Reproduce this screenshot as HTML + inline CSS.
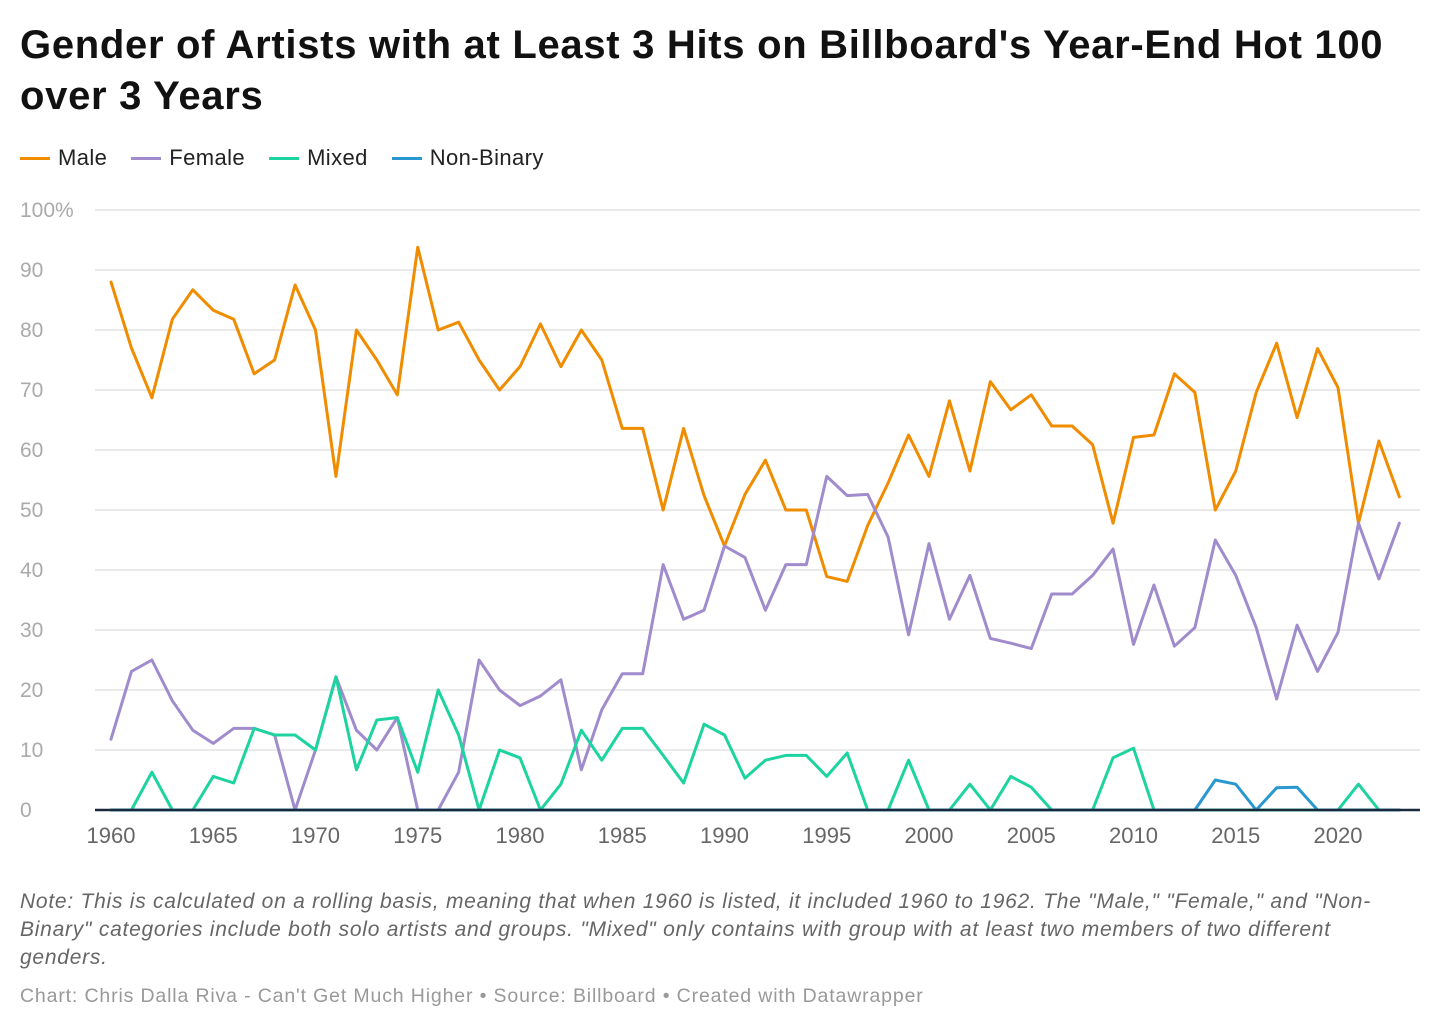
<!DOCTYPE html>
<html><head><meta charset="utf-8"><style>
body{margin:0;background:#fff;font-family:"Liberation Sans",sans-serif;}
#wrap{position:relative;width:1440px;height:1030px;overflow:hidden}
h1{position:absolute;left:20px;top:20px;margin:0;font-size:40px;line-height:51px;font-weight:bold;color:#111;letter-spacing:0.7px}
.leg{position:absolute;top:145px;left:20px;font-size:22px;color:#222;display:flex;gap:24px;letter-spacing:0.4px}
.leg span{display:flex;align-items:center}
.leg i{display:inline-block;width:30px;height:3px;margin-right:8px}
.note{position:absolute;left:20px;top:888px;width:1395px;font-size:21px;line-height:28px;font-style:italic;color:#666;letter-spacing:0.75px}
.foot{position:absolute;left:20px;top:985px;font-size:19.5px;color:#999;letter-spacing:0.85px}
</style></head><body><div id="wrap">
<h1>Gender of Artists with at Least 3 Hits on Billboard's Year-End Hot 100<br>over 3 Years</h1>
<div class="leg">
<span><i style="background:#f08c00"></i>Male</span>
<span><i style="background:#a08ccc"></i>Female</span>
<span><i style="background:#1dd3a0"></i>Mixed</span>
<span><i style="background:#2a98d0"></i>Non-Binary</span>
</div>
<svg id="svg" width="1440" height="1030" style="position:absolute;left:0;top:0"></svg>
<div class="note">Note: This is calculated on a rolling basis, meaning that when 1960 is listed, it included 1960 to 1962. The "Male," "Female," and "Non-Binary" categories include both solo artists and groups. "Mixed" only contains with group with at least two members of two different genders.</div>
<div class="foot">Chart: Chris Dalla Riva - Can't Get Much Higher • Source: Billboard • Created with Datawrapper</div>
</div>
<script>
const years=[];for(let y=1960;y<=2023;y++)years.push(y);
const male=[88,77,68.7,81.8,86.7,83.3,81.8,72.7,75,87.5,80,55.6,80,75,69.2,93.8,80,81.3,75,70,73.9,81,73.9,80,75,63.6,63.6,50,63.6,52.4,44,52.6,58.3,50,50,38.9,38.1,47.4,54.5,62.5,55.6,68.2,56.5,71.4,66.7,69.2,64,64,60.9,47.8,62.1,62.5,72.7,69.6,50,56.5,69.6,77.8,65.4,76.9,70.4,47.8,61.5,52.2];
const female=[11.8,23.1,25,18.2,13.3,11.1,13.6,13.6,12.5,0,10,22.2,13.3,10,15.4,0,0,6.3,25,20,17.4,19,21.7,6.7,16.7,22.7,22.7,40.9,31.8,33.3,44,42.1,33.3,40.9,40.9,55.6,52.4,52.6,45.5,29.2,44.4,31.8,39.1,28.6,27.8,26.9,36,36,39.1,43.5,27.6,37.5,27.3,30.4,45,39.1,30.4,18.5,30.8,23.1,29.6,47.8,38.5,47.8];
const mixed=[0,0,6.3,0,0,5.6,4.5,13.6,12.5,12.5,10,22.2,6.7,15,15.4,6.3,20,12.5,0,10,8.7,0,4.3,13.3,8.3,13.6,13.6,9.1,4.5,14.3,12.5,5.3,8.3,9.1,9.1,5.6,9.5,0,0,8.3,0,0,4.3,0,5.6,3.8,0,0,0,8.7,10.3,0,0,0,0,0,0,0,0,0,0,4.3,0,0];
const nonbinary=[0,0,0,0,0,0,0,0,0,0,0,0,0,0,0,0,0,0,0,0,0,0,0,0,0,0,0,0,0,0,0,0,0,0,0,0,0,0,0,0,0,0,0,0,0,0,0,0,0,0,0,0,0,0,5,4.3,0,3.7,3.8,0,0,0,0,0];
const yTicks=[0,10,20,30,40,50,60,70,80,90,100];
const xTicks=[1960,1965,1970,1975,1980,1985,1990,1995,2000,2005,2010,2015,2020];
const NS='http://www.w3.org/2000/svg',svg=document.getElementById('svg');
const X=y=>111+(y-1960)*(1338-111)/60, Y=v=>810-v*6;
function mk(t,a){const e=document.createElementNS(NS,t);for(const k in a)e.setAttribute(k,a[k]);svg.appendChild(e);return e;}
yTicks.forEach(v=>{
 const l=mk('line',{x1:95,x2:1420,y1:Y(v),y2:Y(v),stroke:'#e3e3e3','stroke-width':1.5});
 
 
 const t=mk('text',{x:20,y:Y(v)+7,'font-size':21,fill:'#aaa','font-family':'Liberation Sans'});
 t.textContent=v===100?'100%':v;
 
 
});
xTicks.forEach(v=>{
 const t=mk('text',{x:X(v),y:843,'font-size':22,fill:'#666','text-anchor':'middle','font-family':'Liberation Sans'});
 t.textContent=v;
 
 
});
function line(d,c,n){const p=mk('polyline',{points:d.map((v,i)=>X(years[i])+','+Y(v)).join(' '),fill:'none',stroke:c,'stroke-width':3,'stroke-linejoin':'round','stroke-linecap':'round'});
 
 }
line(male,'#f08c00','male-line');
line(female,'#a08ccc','female-line');
line(mixed,'#1dd3a0','mixed-line');
line(nonbinary,'#2a98d0','non-binary-line');
const ax=mk('line',{x1:95,x2:1420,y1:810,y2:810,stroke:'#1b2a3a','stroke-width':2.5});


</script></body></html>
